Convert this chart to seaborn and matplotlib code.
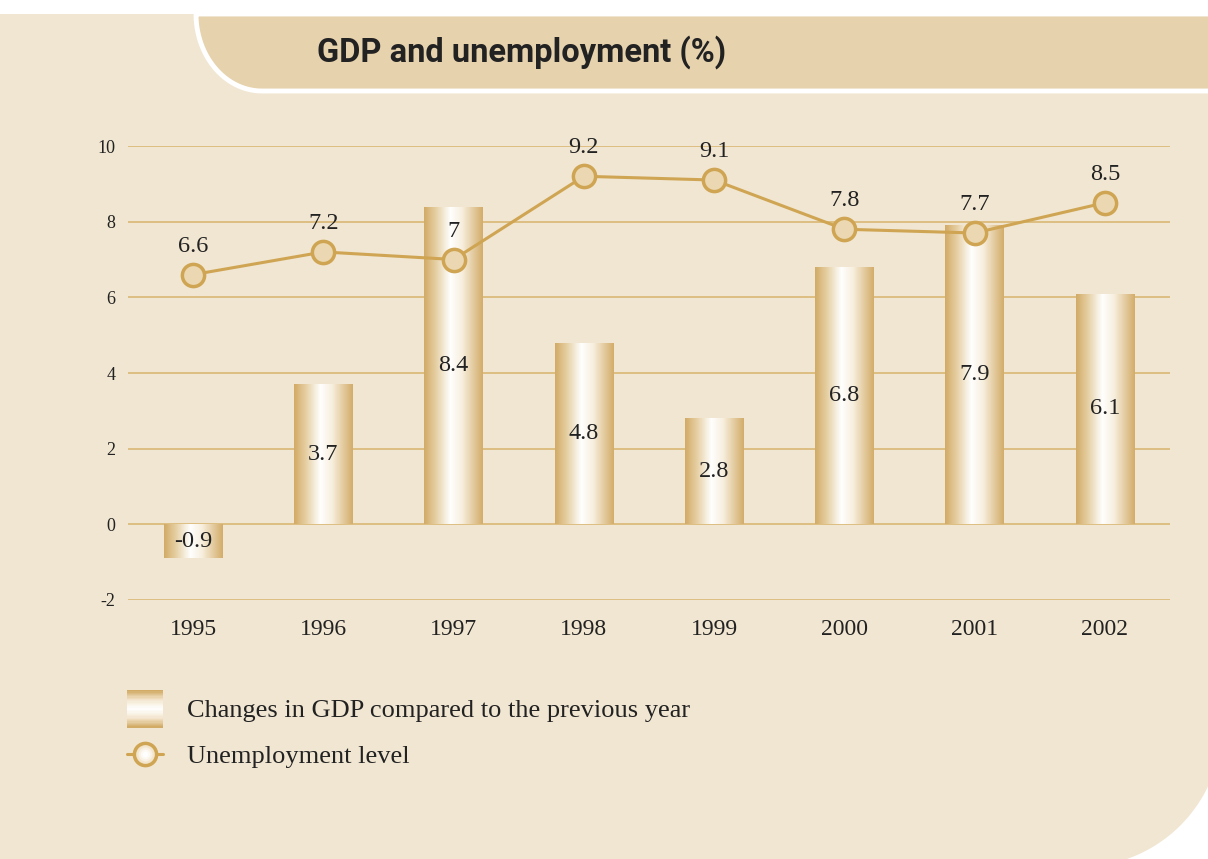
import numpy as np
import matplotlib
matplotlib.use("Agg")
import matplotlib.pyplot as plt
import seaborn as sns
from matplotlib.colors import LinearSegmentedColormap
from matplotlib.patches import Polygon, Rectangle
from matplotlib.lines import Line2D
from matplotlib.legend_handler import HandlerBase

years = ["1995", "1996", "1997", "1998", "1999", "2000", "2001", "2002"]
gdp_change = [-0.9, 3.7, 8.4, 4.8, 2.8, 6.8, 7.9, 6.1]
unemployment = [6.6, 7.2, 7.0, 9.2, 9.1, 7.8, 7.7, 8.5]
y_ticks = [-2, 0, 2, 4, 6, 8, 10]

title = "GDP and unemployment (%)"
gdp_label = "Changes in GDP compared to the previous year"
unemp_label = "Unemployment level"

CREAM = "#F1E6D1"
TAB = "#E6D2AD"
GOLD = "#CFA553"
GRID = "#D8B46C"
TEXT = "#222222"
SERIF = ["Liberation Serif", "DejaVu Serif"]

sns.set_theme(style="white")
plt.rcParams["font.family"] = SERIF

W, H = 1208, 859
fig = plt.figure(figsize=(W / 100, H / 100), dpi=100)
fig.patch.set_facecolor(CREAM)


def px(x, y):
    return (x / W, 1 - y / H)


# white strip on top
fig.patches.append(Rectangle(px(0, 14), 1, 14 / H, transform=fig.transFigure,
                             facecolor="white", edgecolor="none", zorder=0))

# title tab with rounded lower-left corner
t = np.linspace(0, np.pi / 2, 40)
tab_pts = [px(262 - 66 * np.cos(a), 14 + 77 * np.sin(a)) for a in t]
tab_pts += [px(1215, 91), px(1215, 14)]
fig.patches.append(Polygon(tab_pts, closed=True, transform=fig.transFigure,
                           facecolor=TAB, edgecolor="white", linewidth=3.5, zorder=1))

# white outside the rounded bottom-right corner of the page
arc = np.linspace(np.arcsin(61 / 142), np.arccos(47 / 142) + 0.02, 40)
corner = [px(1080 + 142 * np.cos(a), 725 + 142 * np.sin(a)) for a in arc]
corner += [px(1100, 865), px(1214, 865), px(1214, 780)]
fig.patches.append(Polygon(corner, closed=True, transform=fig.transFigure,
                           facecolor="white", edgecolor="none", zorder=1))

fig.text(*px(522, 52), title, ha="center", va="center", fontsize=23.5,
         fontweight="bold", color=TEXT,
         family=["Roboto", "DejaVu Sans"])

ax = fig.add_axes([128 / W, 1 - 600 / H, (1170 - 128) / W, (600 - 146) / H])
ax.set_facecolor("none")

sns.barplot(x=years, y=gdp_change, width=0.45, color="white", ax=ax, zorder=2)

bar_cmap = LinearSegmentedColormap.from_list(
    "bar", [(0, "#D2AB66"), (0.2, "#E6CFA3"), (0.45, "#FFFFFF"),
            (0.65, "#F7EEDD"), (1, "#D3AD6A")])
grad = np.linspace(0, 1, 200).reshape(1, -1)
for p in ax.patches:
    x0, y0 = p.get_x(), p.get_y()
    w, h = p.get_width(), p.get_height()
    im = ax.imshow(grad, cmap=bar_cmap, aspect="auto", zorder=2,
                   extent=[x0, x0 + w, min(y0, y0 + h), max(y0, y0 + h)])
    im.set_clip_path(p)
    p.set_facecolor("none")
    p.set_edgecolor("none")

sns.pointplot(x=years, y=unemployment, color=GOLD, ax=ax, markers="o",
              linewidth=2.2, markersize=16, markeredgewidth=2.5,
              markeredgecolor=GOLD, markerfacecolor="#EBD8B2", zorder=4)

# fake radial gradient inside the markers
MARKER_LAYERS = [(13, "#F3E6CD"), (10, "#F9F1E3"), (7, "#FDFAF4"), (4, "#FFFFFF")]
pts = ax.lines[-1].get_xydata()
for size, col in MARKER_LAYERS:
    ax.plot(pts[:, 0], pts[:, 1], linestyle="none", marker="o", markersize=size,
            markerfacecolor=col, markeredgecolor="none", zorder=5)

for i, v in enumerate(gdp_change):
    ax.text(i, v / 2, f"{v:g}", ha="center", va="center", fontsize=17.5,
            color=TEXT, zorder=6)
for i, v in enumerate(unemployment):
    ax.annotate(f"{v:g}", (i, v), xytext=(0, 20.5), textcoords="offset points",
                ha="center", va="center", fontsize=17.5, color=TEXT, zorder=6)

ax.set_xlim(-0.5, len(years) - 0.5)
ax.set_ylim(-2, 10)
ax.set_yticks(y_ticks)
ax.set_yticklabels([str(v) for v in y_ticks])
ax.yaxis.grid(True, color=GRID, linewidth=1.1, zorder=0)
ax.set_axisbelow(True)
for s in ax.spines.values():
    s.set_visible(False)
ax.tick_params(axis="y", length=0, pad=9, labelsize=13, labelcolor=TEXT)
ax.tick_params(axis="x", length=0, pad=14, labelsize=17, labelcolor=TEXT)
ax.set_xlabel("")
ax.set_ylabel("")


class GradientHandler(HandlerBase):
    def create_artists(self, legend, orig_handle, xdescent, ydescent,
                       width, height, fontsize, trans):
        n = 30
        cmap = LinearSegmentedColormap.from_list(
            "leg", ["#D2AB66", "#F3E6CF", "#FFFFFF", "#F3E6CF", "#D2AB66"])
        out = []
        for k in range(n):
            out.append(Rectangle((-xdescent, -ydescent + height * k / n), width,
                                 height / n + 0.3, facecolor=cmap(k / (n - 1)),
                                 edgecolor="none", transform=trans))
        return out


class MarkerHandler(HandlerBase):
    def create_artists(self, legend, orig_handle, xdescent, ydescent,
                       width, height, fontsize, trans):
        cy = height / 2 - ydescent
        out = [Line2D([-xdescent, width - xdescent], [cy, cy], color=GOLD,
                      linewidth=2.2, transform=trans)]
        layers = [(16, "#EBD8B2", GOLD, 2.5)] + [(s, c, "none", 0)
                                                   for s, c in MARKER_LAYERS]
        for size, fc, ec, ew in layers:
            out.append(Line2D([width / 2 - xdescent], [cy], linestyle="none",
                              marker="o", markersize=size, markerfacecolor=fc,
                              markeredgecolor=ec, markeredgewidth=ew,
                              transform=trans))
        return out


bar_handle = Rectangle((0, 0), 1, 1)
line_handle = Line2D([], [])
leg = fig.legend([bar_handle, line_handle], [gdp_label, unemp_label],
                 handler_map={Rectangle: GradientHandler(), Line2D: MarkerHandler()},
                 loc="upper left", bbox_to_anchor=px(127, 690), frameon=False,
                 borderpad=0, borderaxespad=0,
                 fontsize=19, handlelength=1.36, handleheight=1.82,
                 handletextpad=0.9, labelspacing=0.3, labelcolor=TEXT)

fig.savefig("out.png", dpi=100, facecolor=CREAM)
